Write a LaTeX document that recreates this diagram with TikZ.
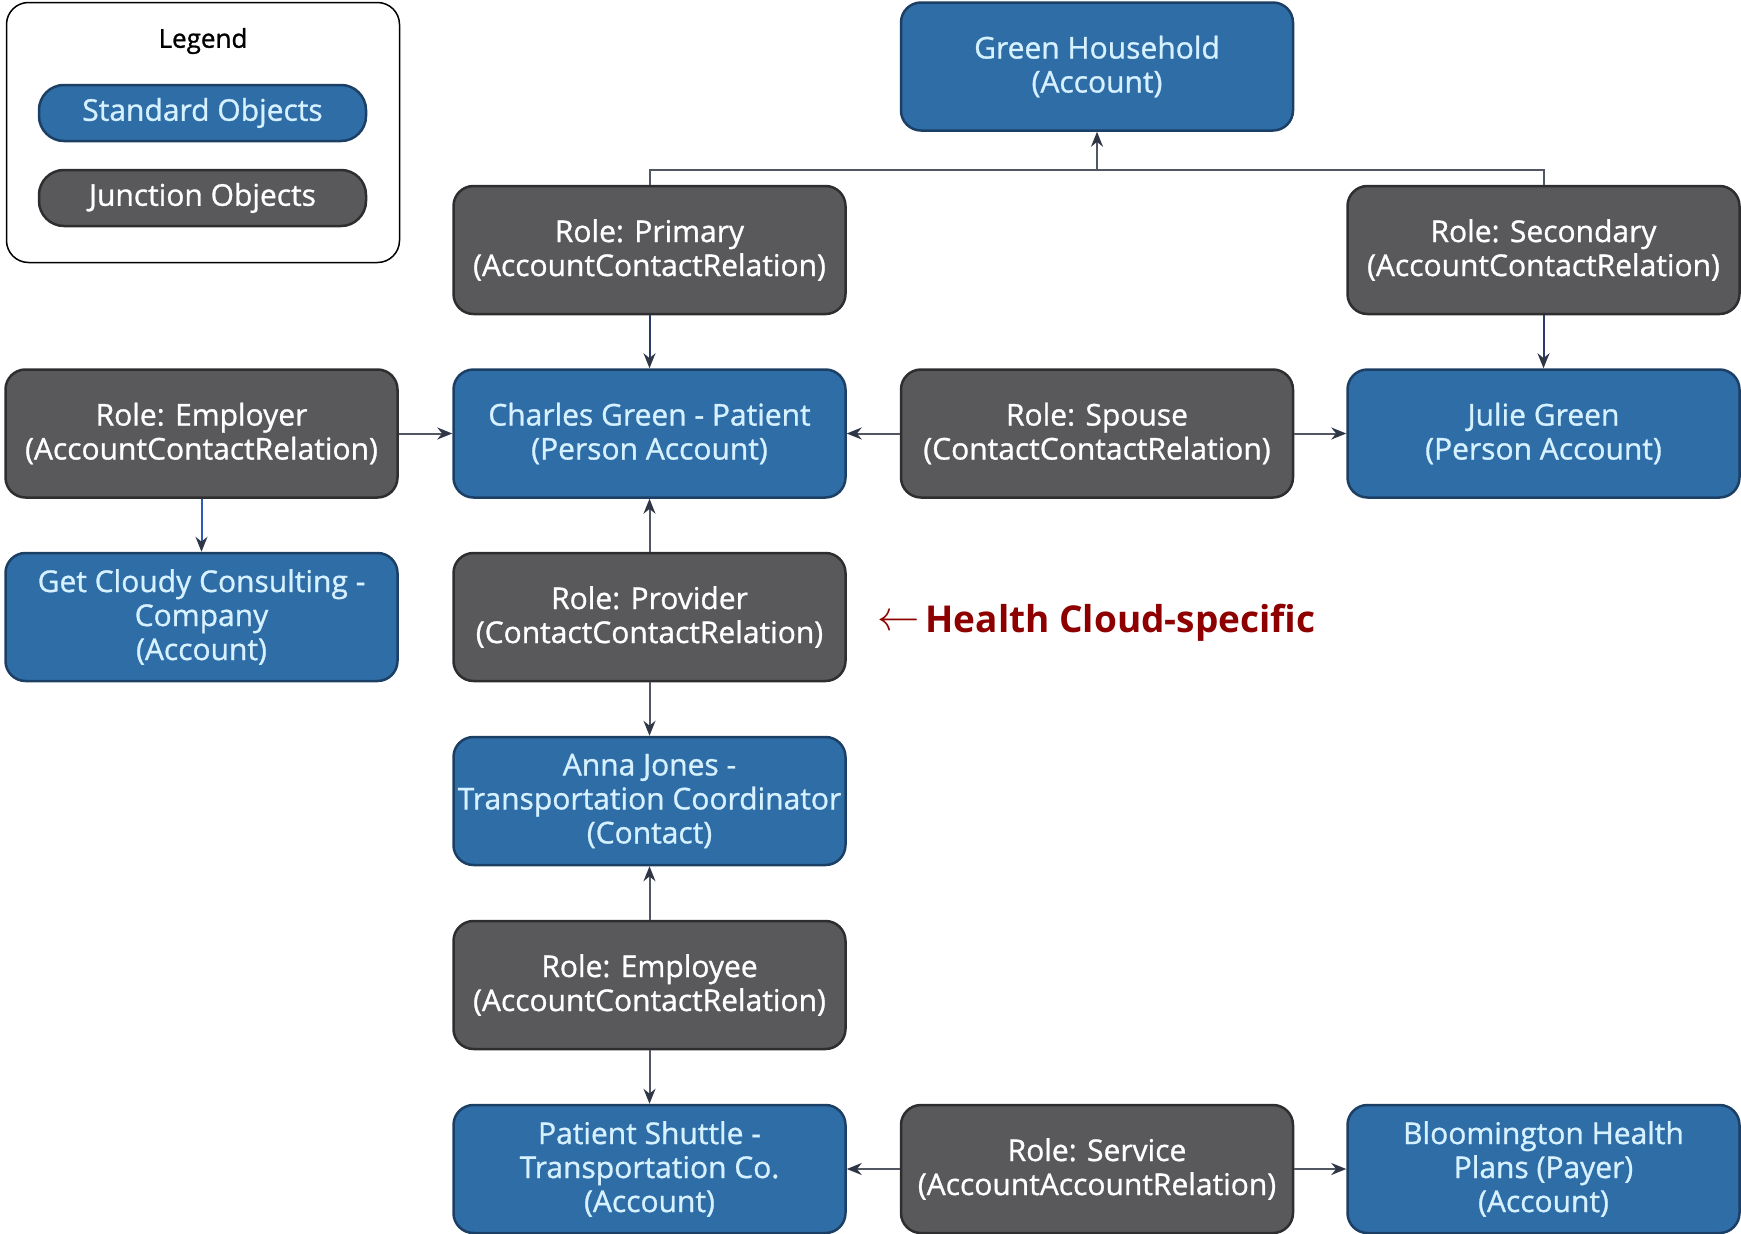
\documentclass[tikz,border=0pt]{standalone}
\usepackage{fontspec}
\setmainfont{Open Sans}
\newfontfamily\boxfont{Open Sans}[FakeBold=1]
\usetikzlibrary{arrows.meta}
\definecolor{sfblue}{HTML}{2F6DA7}
\definecolor{sfblueb}{HTML}{1C3F66}
\definecolor{jgray}{HTML}{59585B}
\definecolor{jgrayb}{HTML}{2E2E30}
\definecolor{linec}{HTML}{525863}
\definecolor{tipc}{HTML}{2F3646}
\definecolor{navyline}{HTML}{2C3A6B}
\definecolor{blueline}{HTML}{2D5CB8}
\definecolor{bluetext}{HTML}{D6F1FF}
\definecolor{hcred}{HTML}{8E0000}
\begin{document}
\begin{tikzpicture}[x=1pt,y=-1pt,
  base/.style={rounded corners=20pt, line width=2.5pt, minimum width=392pt, minimum height=128pt, align=center, inner sep=0pt, font=\boxfont\fontsize{30}{34}\selectfont},
  std/.style={base, fill=sfblue, draw=sfblueb, text=bluetext},
  junc/.style={base, fill=jgray, draw=jgrayb, text=white},
  conn/.style={draw=linec, line width=2pt, -{Stealth[length=15pt,width=12pt,color=tipc]}},
  plainline/.style={draw=linec, line width=2pt},
]
\useasboundingbox (0,0) rectangle (1741,1234);
% legend
\node[draw=black, line width=1.5pt, rounded corners=22pt, minimum width=393pt, minimum height=260pt, fill=white, inner sep=0pt] (leg) at (203,132.5) {};
\node[font=\boxfont\fontsize{26}{30}\selectfont, text=black] (legt) at (203,41) {Legend};
\node[std, minimum width=327pt, minimum height=56pt, rounded corners=25pt] (ls) at (202.5,113) {Standard Objects};
\node[junc, minimum width=327pt, minimum height=56pt, rounded corners=25pt] (lj) at (202.5,198) {Junction Objects};
% boxes
\node[std] (gh) at (1097,66.5) {Green Household\\(Account)};
\node[junc] (pri) at (649.5,250) {Role: Primary\\(AccountContactRelation)};
\node[junc] (sec) at (1543.5,250) {Role: Secondary\\(AccountContactRelation)};
\node[junc] (emp) at (201.5,433.5) {Role: Employer\\(AccountContactRelation)};
\node[std] (cg) at (649.5,433.5) {Charles Green - Patient\\(Person Account)};
\node[junc] (sp) at (1097,433.5) {Role: Spouse\\(ContactContactRelation)};
\node[std] (jg) at (1543.5,433.5) {Julie Green\\(Person Account)};
\node[std] (gc) at (201.5,617) {Get Cloudy Consulting -\\Company\\(Account)};
\node[junc] (prov) at (649.5,617) {Role: Provider\\(ContactContactRelation)};
\node[std] (aj) at (649.5,801) {Anna Jones -\\Transportation Coordinator\\(Contact)};
\node[junc] (ee) at (649.5,985) {Role: Employee\\(AccountContactRelation)};
\node[std] (ps) at (649.5,1169) {Patient Shuttle -\\Transportation Co.\\(Account)};
\node[junc] (svc) at (1097,1169) {Role: Service\\(AccountAccountRelation)};
\node[std] (bh) at (1543.5,1169) {Bloomington Health\\Plans (Payer)\\(Account)};
% annotation
\node[anchor=west, text=hcred, font=\bfseries\fontsize{37}{42}\selectfont, inner sep=0pt] (hc) at (877,623) {\raisebox{2pt}{\scalebox{1.7}{$\leftarrow$}}\hspace{6pt}Health Cloud-specific};
% connectors
\coordinate (j) at (1097,170);
\draw[plainline] (pri.north) -- (pri.north |- j) -- (sec.north |- j) -- (sec.north);
\draw[conn] (j) -- (gh);
\draw[conn, draw=navyline] (pri) -- (cg);
\draw[conn, draw=navyline] (sec) -- (jg);
\draw[conn] (emp) -- (cg);
\draw[conn] (sp) -- (cg);
\draw[conn] (sp) -- (jg);
\draw[conn, draw=blueline] (emp) -- (gc);
\draw[conn] (prov) -- (cg);
\draw[conn] (prov) -- (aj);
\draw[conn] (ee) -- (aj);
\draw[conn] (ee) -- (ps);
\draw[conn] (svc) -- (ps);
\draw[conn] (svc) -- (bh);
\end{tikzpicture}
\end{document}
